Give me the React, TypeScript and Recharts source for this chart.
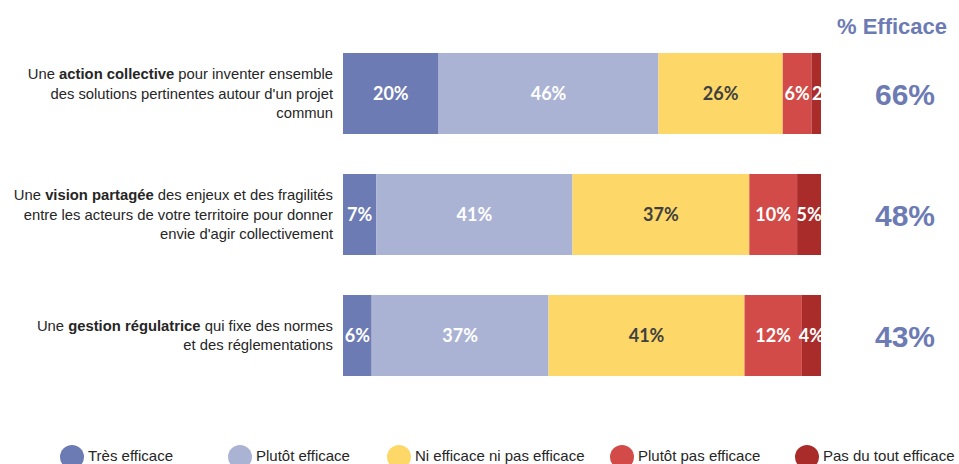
import { Bar, BarChart, LabelList, Legend, XAxis, YAxis } from "recharts";

// values (% of answers)
const tresEfficace = [20, 7, 6];
const plutotEfficace = [46, 41, 37];
const niNiPas = [26, 37, 41];
const plutotPas = [6, 10, 12];
const pasDuTout = [2, 5, 4];
const pctEfficace = [66, 48, 43];

const categoryIds = ["action", "vision", "gestion"];

// each question label: lines of [text, bold] runs
const questionLines: [string, boolean][][][] = [
  [
    [["Une ", false], ["action collective", true], [" pour inventer ensemble", false]],
    [["des solutions pertinentes autour d'un projet", false]],
    [["commun", false]],
  ],
  [
    [["Une ", false], ["vision partagée", true], [" des enjeux et des fragilités", false]],
    [["entre les acteurs de votre territoire pour donner", false]],
    [["envie d'agir collectivement", false]],
  ],
  [
    [["Une ", false], ["gestion régulatrice", true], [" qui fixe des normes", false]],
    [["et des réglementations", false]],
  ],
];

const seriesKeys = ["tres", "plutot", "nini", "plutotPas", "pasDuTout"];
const seriesNames = [
  "Très efficace",
  "Plutôt efficace",
  "Ni efficace ni pas efficace",
  "Plutôt pas efficace",
  "Pas du tout efficace",
];
const seriesColors = ["#6C7BB3", "#ABB3D4", "#FDD767", "#D24B48", "#A92C2A"];
const labelColors = ["#FFFFFF", "#FFFFFF", "#404040", "#FFFFFF", "#FFFFFF"];

const LEGEND_X = [60, 228, 387, 610, 795];
const ACCENT = "#6C7BB3";

const data = categoryIds.map((id, i) => ({
  name: id,
  tres: tresEfficace[i],
  plutot: plutotEfficace[i],
  nini: niNiPas[i],
  plutotPas: plutotPas[i],
  pasDuTout: pasDuTout[i],
  efficace: pctEfficace[i],
}));

function QuestionTick(props: any) {
  const { x, y, payload } = props;
  const lines = questionLines[payload.index] ?? [];
  const lh = 19.5;
  const start = y - ((lines.length - 1) * lh) / 2 + 5;
  return (
    <text
      x={x}
      y={start}
      textAnchor="end"
      fontFamily="'Liberation Sans', Arial, sans-serif"
      fontSize={14.8}
      fill="#262626"
    >
      {lines.map((line, li) => (
        <tspan key={li} x={x} y={start + li * lh}>
          {line.map(([t, b], ri) => (
            <tspan key={ri} fontWeight={b ? 700 : 400}>
              {t}
            </tspan>
          ))}
        </tspan>
      ))}
    </text>
  );
}

function EfficaceTick(props: any) {
  const { x, y, payload } = props;
  return (
    <text
      x={x + 84}
      y={y + 11}
      textAnchor="middle"
      fontFamily="'Liberation Sans', Arial, sans-serif"
      fontWeight={700}
      fontSize={30}
      fill={ACCENT}
    >
      {pctEfficace[payload.index]}%
    </text>
  );
}

function HeaderLabel(props: any) {
  const { viewBox } = props;
  return (
    <text
      x={viewBox.x + 71}
      y={viewBox.y + 1}
      textAnchor="middle"
      fontFamily="'Liberation Sans', Arial, sans-serif"
      fontWeight={700}
      fontSize={22}
      fill={ACCENT}
    >
      % Efficace
    </text>
  );
}

function makeSegmentLabel(si: number) {
  return function SegmentLabel(props: any) {
    const { x, y, width, height, value, index } = props;
    const id = `clip-${si}-${index}`;
    const narrow = width < 15;
    return (
      <g>
        <defs>
          <clipPath id={id}>
            <rect x={x - 20} y={y} width={width + 20} height={height} />
          </clipPath>
        </defs>
        <text
          x={narrow ? x + 0.5 : x + width / 2}
          y={y + height / 2 + 6}
          textAnchor={narrow ? "start" : "middle"}
          fontFamily="Lato, 'Open Sans', sans-serif"
          fontWeight={700}
          fontSize={18}
          fill={labelColors[si]}
          clipPath={`url(#${id})`}
        >
          {value}%
        </text>
      </g>
    );
  };
}

function LegendContent() {
  return (
    <div
      style={{
        position: "relative",
        width: 959,
        height: 24,
        fontFamily: "'Liberation Sans', Arial, sans-serif",
        fontSize: 15,
        lineHeight: "17px",
        color: "#262626",
      }}
    >
      {seriesNames.map((n, i) => (
        <div key={n} style={{ position: "absolute", left: LEGEND_X[i], top: 0, whiteSpace: "nowrap" }}>
          <span
            style={{
              position: "absolute",
              left: 0,
              top: 5,
              width: 24,
              height: 24,
              borderRadius: "50%",
              background: seriesColors[i],
            }}
          />
          <span style={{ position: "absolute", left: 28, top: 7 }}>{n}</span>
        </div>
      ))}
    </div>
  );
}

export default function App() {
  return (
    <div style={{ position: "absolute", left: 0, top: 0, width: 959, height: 464, overflow: "hidden", background: "#fff" }}>
      <BarChart
        width={959}
        height={464}
        data={data}
        layout="vertical"
        margin={{ top: 33, right: 0, bottom: 44, left: 0 }}
        barCategoryGap={20}
      >
        <XAxis type="number" domain={[0, 100]} hide />
        <YAxis
          yAxisId="left"
          type="category"
          dataKey="name"
          width={343}
          axisLine={false}
          tickLine={false}
          tickSize={0}
          tickMargin={10}
          tick={<QuestionTick />}
        />
        <YAxis
          yAxisId="right"
          orientation="right"
          type="category"
          dataKey="name"
          width={138}
          axisLine={false}
          tickLine={false}
          tickSize={0}
          tickMargin={0}
          tick={<EfficaceTick />}
          label={{ content: <HeaderLabel /> }}
        />
        <Legend
          verticalAlign="bottom"
          content={<LegendContent />}
          wrapperStyle={{ left: 0, top: 440, width: 959, height: 24 }}
        />
        {seriesKeys.map((k, i) => (
          <Bar
            key={k}
            yAxisId="left"
            dataKey={k}
            name={seriesNames[i]}
            stackId="a"
            fill={seriesColors[i]}
            isAnimationActive={false}
          >
            <LabelList dataKey={k} content={makeSegmentLabel(i)} />
          </Bar>
        ))}
      </BarChart>
    </div>
  );
}
